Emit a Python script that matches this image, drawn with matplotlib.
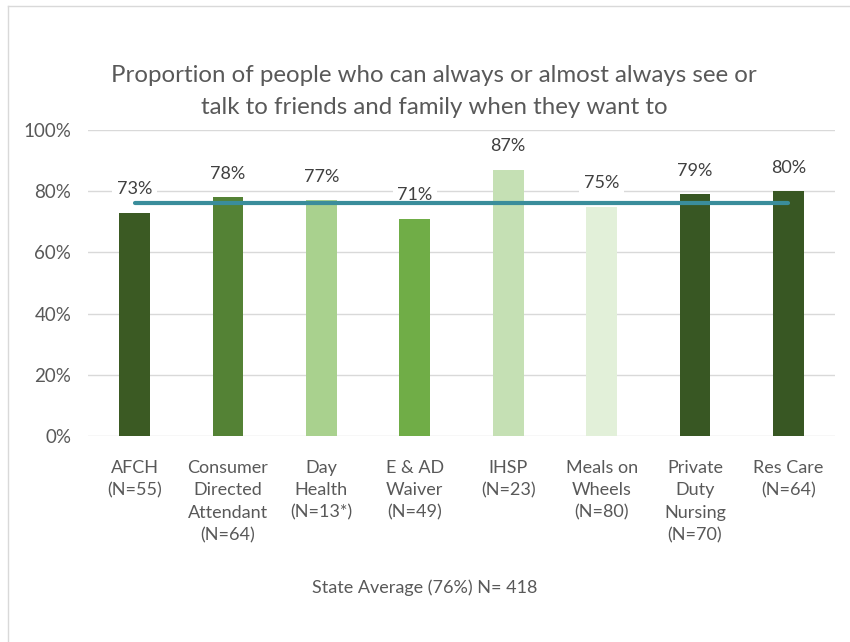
import numpy as np
import matplotlib
matplotlib.use("Agg")
import matplotlib.pyplot as plt

plt.rcParams['font.family'] = ['Lato', 'DejaVu Sans']

programs = ["AFCH\n(N=55)", "Consumer\nDirected\nAttendant\n(N=64)", "Day\nHealth\n(N=13*)",
            "E & AD\nWaiver\n(N=49)", "IHSP\n(N=23)", "Meals on\nWheels\n(N=80)",
            "Private\nDuty\nNursing\n(N=70)", "Res Care\n(N=64)"]
pct = [73, 78, 77, 71, 87, 75, 79, 80]
state_avg = 76
colors = ["#3B5A23", "#548235", "#A9D18E", "#70AD47", "#C5E0B4", "#E2F0D9", "#385723", "#385723"]

txt = "#595959"
fig = plt.figure(figsize=(8.5, 6.42), dpi=100)
ax = fig.add_axes([88/850, 1-436/642, (835-88)/850, 306/642])

x = np.arange(len(pct))
vals = np.array(pct) / 100
ax.bar(x, vals, width=0.33, color=colors, zorder=2)
ax.plot([x[0], x[-1]], [state_avg/100]*2, color="#3A8D9B", lw=3, zorder=4, solid_capstyle='round')

for xi, v, p in zip(x, vals, pct):
    ax.annotate(f"{p}%", (xi, v), xytext=(0, 17), textcoords='offset points', ha='center', va='center',
                fontsize=13, color="#404040", zorder=3,
                bbox=dict(boxstyle='square,pad=0.25', fc='white', ec='none'))

ax.set_xlim(-0.5, len(pct)-0.5)
ax.set_ylim(0, 1)
ax.set_yticks(np.arange(0, 1.01, 0.2))
ax.set_yticklabels([f"{int(t*100)}%" for t in np.arange(0, 1.01, 0.2)], fontsize=13.5, color=txt)
ax.set_xticks(x)
ax.set_xticklabels(programs, fontsize=13, color=txt, linespacing=1.5, va='top')
ax.tick_params(length=0, pad=12)
ax.tick_params(axis='x', pad=17)
ax.grid(axis='y', color="#D9D9D9", lw=1, zorder=0)
for s in ax.spines.values():
    s.set_visible(False)

fig.text(434/850, 1-75/642, "Proportion of people who can always or almost always see or",
         ha='center', va='center', fontsize=17.3, color=txt)
fig.text(434/850, 1-108/642, "talk to friends and family when they want to",
         ha='center', va='center', fontsize=17.3, color=txt)
fig.text(425/850, 1-588/642, "State Average (76%) N= 418", ha='center', va='center',
         fontsize=13, color=txt)

# outer chart frame (top and left edges)
fig.add_artist(plt.Line2D([8/850, 1], [1-6/642]*2, color="#D9D9D9", lw=1))
fig.add_artist(plt.Line2D([8/850]*2, [0, 1-6/642], color="#D9D9D9", lw=1))

fig.savefig("out.png", dpi=100)
